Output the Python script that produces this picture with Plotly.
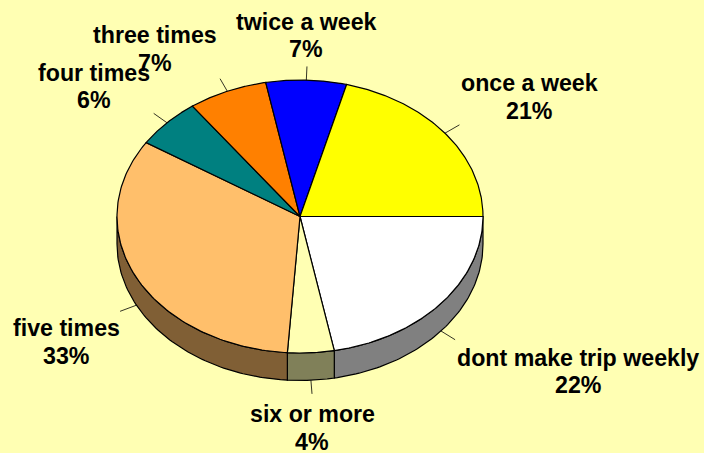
import numpy as np
import plotly.graph_objects as go

categories = ["dont make trip weekly", "six or more", "five times", "four times",
              "three times", "twice a week", "once a week"]
values = [22.0, 4.1, 33.0, 5.9, 7.0, 7.1, 20.9]
top_colors = ["#FFFFFF", "#FFFFB3", "#FFBF6B", "#008080", "#FF8000", "#0000FF", "#FFFF00"]
side_colors = ["#808080", "#808059", "#805F35", "#004040", "#804000", "#000080", "#808000"]
label_x = [578, 312, 66, 94, 155, 306, 529]
name_y = [358, 414, 328, 73, 35, 22, 83]
pct_y = [385, 442, 356, 100, 63, 49, 111]

W, H = 704, 453
CX, CY, RX, RY, DEPTH = 300, 216.5, 183, 136.5, 27.5
START = 90.0  # degrees clockwise from 12 o'clock
BG = "#FFFFB3"
FONT = dict(family="Liberation Sans", size=23.2, color="black")


def pt(angle, depth=0.0, scale=1.0):
    a = np.radians(angle)
    return CX + RX * scale * np.sin(a), CY - RY * scale * np.cos(a) + depth


fig = go.Figure()
frac = np.array(values) / sum(values) * 360
starts = START + np.concatenate([[0], np.cumsum(frac)[:-1]])
ends = starts + frac

# side wall (only visible for the front half, 90..270 degrees)
for s, e, c in zip(starts, ends, side_colors):
    lo, hi = max(s, 90), min(e, 270)
    if hi <= lo:
        continue
    t = np.linspace(lo, hi, 80)
    x1, y1 = pt(t)
    x2, y2 = pt(t[::-1], DEPTH)
    fig.add_trace(go.Scatter(x=np.r_[x1, x2, x1[0]], y=np.r_[y1, y2, y1[0]], mode="lines",
                             fill="toself", fillcolor=c, line=dict(color="black", width=1.2),
                             hoverinfo="skip"))

# top face
for s, e, c, n, v in zip(starts, ends, top_colors, categories, values):
    t = np.linspace(s, e, 120)
    x, y = pt(t)
    fig.add_trace(go.Scatter(x=np.r_[CX, x, CX], y=np.r_[CY, y, CY], mode="lines",
                             fill="toself", fillcolor=c, line=dict(color="black", width=1.2),
                             name=n, text=f"{n}: {v:.0f}%", hoverinfo="text"))

# leader lines and labels
for s, e, n, v, lx, ny, py in zip(starts, ends, categories, values, label_x, name_y, pct_y):
    m = (s + e) / 2
    d = DEPTH if 90 < m % 360 < 270 else 0
    x0, y0 = pt(m, d)
    x1, y1 = pt(m, d, 1.1)
    fig.add_trace(go.Scatter(x=[x0, x1], y=[y0, y1], mode="lines",
                             line=dict(color="black", width=0.8), hoverinfo="skip"))
    fig.add_annotation(x=lx, y=ny, text=f"<b>{n}</b>", showarrow=False,
                       xanchor="center", yanchor="middle", font=FONT)
    fig.add_annotation(x=lx, y=py, text=f"<b>{v / sum(values) * 100:.0f}%</b>", showarrow=False,
                       xanchor="center", yanchor="middle", font=FONT)

fig.update_layout(
    width=W, height=H, autosize=False, showlegend=False,
    margin=dict(l=0, r=0, t=0, b=0), paper_bgcolor=BG, plot_bgcolor=BG,
    xaxis=dict(range=[0, W], visible=False, fixedrange=True),
    yaxis=dict(range=[H, 0], visible=False, fixedrange=True),
)
fig.write_html("out.html", config={"displayModeBar": False},
               post_script="document.body.style.margin='0';document.body.style.background='#FFFFB3';")
